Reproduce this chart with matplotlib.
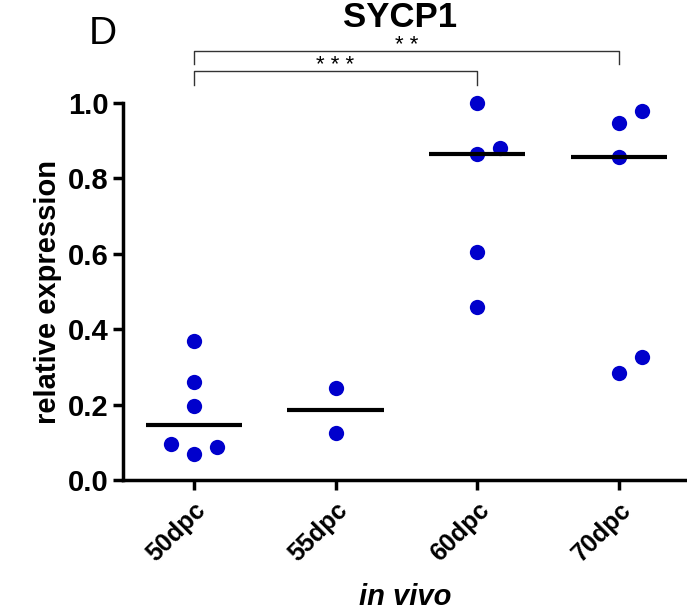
import numpy as np
import matplotlib
matplotlib.use('Agg')
import matplotlib.pyplot as plt

plt.rcParams['font.family'] = ['Liberation Sans', 'DejaVu Sans']

groups = ['50dpc', '55dpc', '60dpc', '70dpc']
values = [
    [0.37, 0.26, 0.195, 0.095, 0.07, 0.088],
    [0.245, 0.125],
    [1.0, 0.865, 0.881, 0.604, 0.46],
    [0.948, 0.98, 0.858, 0.325, 0.285],
]
# horizontal jitter of each dot, in category units
offsets = [
    [0, 0, 0, -0.16, 0, 0.16],
    [0, 0],
    [0, 0, 0.16, 0, 0],
    [0, 0.16, 0, 0.16, 0],
]
comparisons = [(0, 2, '***'), (0, 3, '**')]

dot_color = '#0000CC'

fig = plt.figure(figsize=(6.87, 6.15), dpi=100)
ax = fig.add_axes([0.179, 0.2195, 0.821, 0.613])

for i, (vals, offs) in enumerate(zip(values, offsets)):
    xs = [i + o for o in offs]
    ax.plot(xs, vals, 'o', color=dot_color, markersize=11,
            markeredgewidth=0, clip_on=False, zorder=3)
    med = np.median(vals)
    ax.plot([i - 0.34, i + 0.34], [med, med], color='black',
            linewidth=3, solid_capstyle='butt', zorder=4)

ax.set_xlim(-0.5, 3.48)
ax.set_ylim(0, 1.0)
ax.set_yticks([0, 0.2, 0.4, 0.6, 0.8, 1.0])
ax.set_yticklabels(['0.0', '0.2', '0.4', '0.6', '0.8', '1.0'],
                   fontsize=21, fontweight='bold')
ax.set_xticks(range(len(groups)))
ax.set_xticklabels(groups, rotation=45, ha='right', rotation_mode='anchor',
                   fontsize=18, fontweight='bold')

for side in ['top', 'right']:
    ax.spines[side].set_visible(False)
for side in ['left', 'bottom']:
    ax.spines[side].set_linewidth(2.5)
ax.tick_params(axis='both', width=2.5, length=7, direction='out')
ax.tick_params(axis='x', pad=6)

ax.set_ylabel('relative expression', fontsize=21, fontweight='bold', labelpad=4)
ax.set_xlabel('in vivo', fontsize=21, fontweight='bold', style='italic', labelpad=12)

# significance brackets: (bracket top, end of drop, text baseline)
levels = {'***': (1.085, 1.048, 1.085), '**': (1.138, 1.103, 1.138)}
for a, b, stars in comparisons:
    top, drop, ty = levels[stars]
    ax.plot([a, a, b, b], [drop, top, top, drop], color='#333333',
            linewidth=1, clip_on=False)
    ax.text((a + b) / 2, ty, ' '.join(stars), ha='center', va='baseline',
            fontsize=16, clip_on=False)

fig.text(0.582, 0.972, 'SYCP1', ha='center', va='center',
         fontsize=25, fontweight='bold')
fig.text(0.149, 0.945, 'D', ha='center', va='center', fontsize=28)

plt.savefig('out.png', dpi=100)
